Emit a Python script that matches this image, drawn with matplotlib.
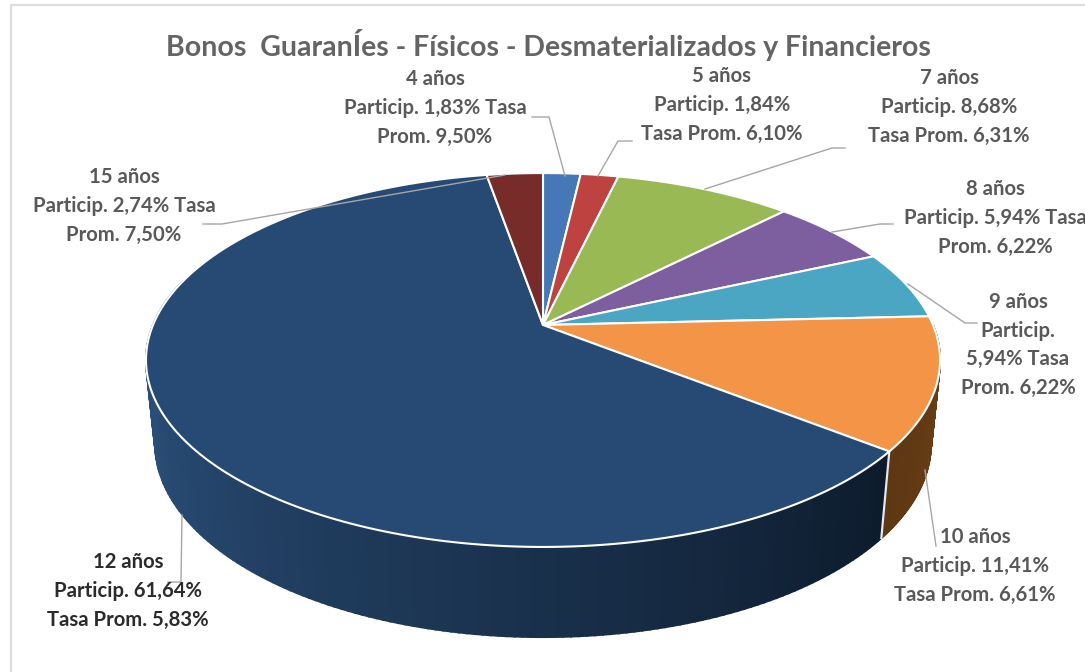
import numpy as np
import matplotlib
matplotlib.use("Agg")
import matplotlib.pyplot as plt
from matplotlib.colors import to_rgb

# ---- data ----
plazos = ["4 años", "5 años", "7 años", "8 años", "9 años", "10 años", "12 años", "15 años"]
particip = [1.83, 1.84, 8.68, 5.94, 5.94, 11.41, 61.64, 2.74]
tasas = ["9,50%", "6,10%", "6,31%", "6,22%", "6,22%", "6,61%", "5,83%", "7,50%"]
lineas = [
    "{p}\nParticip. {v}% Tasa\nProm. {t}",
    "{p}\nParticip. {v}%\nTasa Prom. {t}",
    "{p}\nParticip. {v}%\nTasa Prom. {t}",
    "{p}\nParticip. {v}% Tasa\nProm. {t}",
    "{p}\nParticip.\n{v}% Tasa\nProm. {t}",
    "{p}\nParticip. {v}%\nTasa Prom. {t}",
    "{p}\nParticip. {v}%\nTasa Prom. {t}",
    "{p}\nParticip. {v}% Tasa\nProm. {t}",
]
titulo = "Bonos  GuaranÍes - Físicos - Desmaterializados y Financieros"

# ---- styles ----
colores = ["#4678B8", "#BE4340", "#98B954", "#7D5FA0", "#4BA6C4", "#F39446", "#264A73", "#772C2A"]
lado_colores = {5: ("#6B4019", "#5E3812"), 6: ("#2A4E78", "#0D1B2C")}
pos_label = [(435, 108), (722, 105), (949, 107), (995, 218), (1018, 345), (975, 566), (128, 591), (124, 206)]
col_label = ["#595959"] * 6 + ["#2B2B2B", "#595959"]
leaders = [
    [(532, 117), (549, 117), (565, 176)],
    [(632, 141), (618, 141), (598, 176)],
    [(845, 148), (832, 148), (705, 189)],
    [(893, 224), (880, 224), (832, 232)],
    [(977, 323), (965, 323), (908, 284)],
    [(936, 546), (925, 470)],
    [(168, 582), (181, 582), (182, 515)],
    [(203, 224), (222, 224), (505, 175)],
]

# ---- perspective geometry (unit disc -> picture) ----
CX = 543.0
def proj(t, hub=325.0, a=390.0, b=180.4, k=0.1872, sx=1.0):
    u, v = np.sin(t), np.cos(t)
    w = 1 + k * v
    return CX + sx * a * u / w, hub - b * v / w

def ring_top(t):
    return proj(t)

def ring_bot(t):
    return proj(t, hub=407.0, b=187.0, sx=0.977)

fig = plt.figure(figsize=(10.85, 6.72), dpi=100)
ax = fig.add_axes([0, 0, 1, 1])
ax.set_xlim(0, 1085)
ax.set_ylim(672, 0)
ax.axis("off")

# frame
ax.plot([11, 11, 1085], [672, 5, 5], color="#DCDCDC", lw=1.6, zorder=1)

vals = np.array(particip, dtype=float)
bordes = np.concatenate([[0], np.cumsum(vals)]) / vals.sum() * 2 * np.pi

# side walls
for i, (c0, c1) in lado_colores.items():
    t0, t1 = bordes[i], bordes[i + 1]
    t0v = max(t0, np.radians(90))
    t1v = min(t1, np.radians(285))
    ts = np.linspace(t0v, t1v, 160)
    c0, c1 = np.array(to_rgb(c0)), np.array(to_rgb(c1))
    # left end of the navy wall is the lightest, right end the darkest
    order = range(len(ts) - 1)
    for j in order:
        f = j / (len(ts) - 2)
        c = c0 + (c1 - c0) * f if i == 5 else c1 + (c0 - c1) * min(1, f * 1.25)
        tt = np.linspace(ts[j], ts[j + 1], 3)
        xt, yt = ring_top(tt)
        xb, yb = ring_bot(tt)
        ax.fill(np.r_[xt, xb[::-1]], np.r_[yt, yb[::-1]], facecolor=c, edgecolor=c, lw=1.4, zorder=2)

# white divider on wall
xa, ya = ring_top(bordes[6]); xb_, yb_ = ring_bot(bordes[6])
ax.plot([xa, xb_], [ya, yb_], color="#E8E8E8", lw=1.6, zorder=3)

# top face
for i, c in enumerate(colores):
    tt = np.linspace(bordes[i], bordes[i + 1], 200)
    x, y = ring_top(tt)
    ax.fill(np.r_[CX, x], np.r_[325.0, y], facecolor=c, edgecolor="white", lw=1.5,
            joinstyle="round", zorder=4)

# leader lines
for pts in leaders:
    xs, ys = zip(*pts)
    ax.plot(xs, ys, color="#A6A6A6", lw=1.0, zorder=5, solid_joinstyle="round")

# labels
for i, plazo in enumerate(plazos):
    s = lineas[i].format(p=plazo, v=f"{particip[i]:.2f}".replace(".", ","), t=tasas[i])
    x, y = pos_label[i]
    ax.text(x, y, s, ha="center", va="center", family="Lato", fontweight="bold",
            fontsize=14.6, color=col_label[i], linespacing=1.55, zorder=6, clip_on=True)

ax.text(548, 45, titulo, ha="center", va="center", family="Lato", fontweight="bold",
        fontsize=20.5, color="#646464", zorder=6)

fig.savefig("out.png", dpi=100)
